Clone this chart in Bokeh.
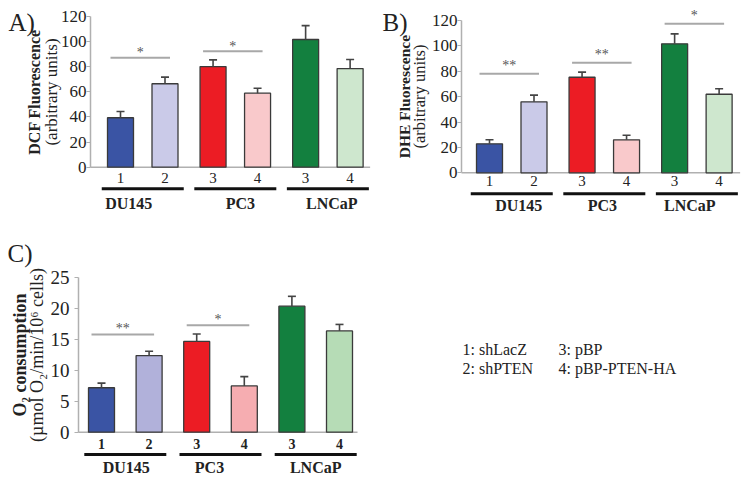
from bokeh.plotting import figure
from bokeh.models import Range1d, LinearAxis, FixedTicker, ColumnDataSource, Whisker, TeeHead
from bokeh.layouts import row, column
from bokeh.core.properties import value
from bokeh.embed import file_html
from bokeh.resources import INLINE

# ---------------- data ----------------
groups = ["DU145", "PC3", "LNCaP"]
sub_labels = ["1", "2", "3", "4", "3", "4"]
group_of_bar = [0, 0, 1, 1, 2, 2]

dcf_mean = [39.3, 66.3, 80.0, 58.8, 101.5, 78.4]
dcf_err = [5.0, 5.3, 5.3, 4.0, 11.0, 7.2]
dcf_sig_from = [0, 2]
dcf_sig_to = [1, 3]
dcf_sig_level = [86.9, 92.2]
dcf_sig_text = ["*", "*"]

dhe_mean = [22.8, 55.9, 75.3, 26.0, 101.6, 61.9]
dhe_err = [3.2, 5.3, 4.0, 3.6, 7.9, 4.3]
dhe_sig_from = [0, 2, 4]
dhe_sig_to = [1, 3, 5]
dhe_sig_level = [78.0, 86.7, 117.4]
dhe_sig_text = ["**", "**", "*"]

o2_mean = [7.2, 12.4, 14.7, 7.5, 20.4, 16.4]
o2_err = [0.75, 0.7, 1.2, 1.5, 1.6, 1.05]
o2_sig_from = [0, 2]
o2_sig_to = [1, 3]
o2_sig_level = [15.8, 17.3]
o2_sig_text = ["**", "*"]

legend_items = ["1: shLacZ", "2: shPTEN", "3: pBP", "4: pBP-PTEN-HA"]

colors_light = ["#3a54a4", "#cacae8", "#ec1c24", "#f9c9cb", "#13803f", "#cee7ce"]
colors_c = ["#3a54a4", "#b1b1da", "#ec1c24", "#f6adb1", "#13803f", "#b6dcb6"]

FONT = "Liberation Serif"
TXT = "#222222"
AX = "#b0b0b0"


def make_panel(letter, ttl_bold, ttl_norm, means, errs, s_from, s_to, s_lv, s_tx, colors, c):
    W, H = c["W"], c["H"]
    n = len(means)
    xs = [i + c["gap"] * group_of_bar[i] for i in range(n)]
    ppx, ppy = c["ppu_x"], c["ppu_y"]
    fc = c["first_center"]
    x0 = (0 - fc) / ppx
    x1 = (W - fc) / ppx
    ax_x = (c["axis_px"] - fc) / ppx
    ytop = c["zero_y"] / ppy
    ybot = -(H - c["zero_y"]) / ppy
    p = figure(width=W, height=H, x_range=Range1d(x0, x1), y_range=Range1d(ybot, ytop),
               x_axis_location=None, toolbar_location=None, output_backend="svg",
               min_border=0, outline_line_color=None)
    p.grid.visible = False

    ax = p.yaxis[0]
    ax.fixed_location = ax_x
    ax.bounds = (0, c["ymax"])
    ax.ticker = FixedTicker(ticks=list(range(0, c["ymax"] + 1, c["step"])), minor_ticks=[])
    ax.axis_line_color = AX
    ax.axis_line_width = 1.5
    ax.major_tick_line_color = AX
    ax.major_tick_line_width = 1.2
    ax.major_tick_out = 4
    ax.major_tick_in = 0
    ax.minor_tick_line_color = None
    ax.major_label_text_font = FONT
    ax.major_label_text_font_size = c["tick_fs"]
    ax.major_label_text_color = TXT
    ax.major_label_standoff = c["tick_std"]
    ax.axis_label = ttl_norm
    ax.axis_label_text_font = FONT
    ax.axis_label_text_font_style = "normal"
    ax.axis_label_text_font_size = c["norm_fs"]
    ax.axis_label_text_color = TXT
    ax.axis_label_standoff = c["std1"]

    ax2 = LinearAxis(ticker=FixedTicker(ticks=[], minor_ticks=[]), axis_label=ttl_bold,
                     fixed_location=ax_x, bounds=(0, c["ymax"]),
                     axis_line_color=None, major_tick_line_color=None, minor_tick_line_color=None,
                     major_label_text_font_size="0px", major_tick_out=0, major_tick_in=0,
                     major_label_standoff=0, axis_label_standoff=c["std2"],
                     axis_label_text_font=FONT, axis_label_text_font_style="bold",
                     axis_label_text_font_size=c["bold_fs"], axis_label_text_color=TXT)
    p.add_layout(ax2, "left")

    # x axis line at zero
    p.segment(x0=[ax_x], y0=[0], x1=[xs[-1] + c["axis_ext"] / ppx], y1=[0],
              line_color=AX, line_width=1.5)

    src = ColumnDataSource(dict(x=xs, top=means, upper=[m + e for m, e in zip(means, errs)],
                                color=colors, lab=sub_labels))
    p.vbar(x="x", top="top", bottom=0, width=26 / ppx, fill_color="color",
           line_color="#3a3a3a", line_width=1.3, source=src)
    p.add_layout(Whisker(source=src, base="x", lower="top", upper="upper", dimension="height",
                         lower_head=None,
                         upper_head=TeeHead(size=8, line_color="#444444", line_width=1.6),
                         line_color="#444444", line_width=1.6, level="annotation"))

    # sub labels
    p.text(x="x", y=0, text="lab", source=src, text_align="center", text_baseline="middle",
           y_offset=c["num_off"], text_font=value(FONT), text_font_size=c["num_fs"],
           text_font_style=c["num_style"], text_color=TXT)

    # group lines and labels
    gx = [(xs[2 * g] + xs[2 * g + 1]) / 2 for g in range(len(groups))]
    half = 41 / ppx
    yl = -c["line_off"] / ppy
    p.segment(x0=[g - half for g in gx], y0=[yl] * 3, x1=[g + half for g in gx], y1=[yl] * 3,
              line_color="#111111", line_width=3, line_cap="butt")
    gsrc = ColumnDataSource(dict(x=gx, t=groups, xo=c["grp_xoff"]))
    p.text(x="x", y=0, text="t", source=gsrc, x_offset="xo", y_offset=c["grp_off"],
           text_align="center", text_baseline="middle", text_font=value(FONT),
           text_font_size=c["grp_fs"], text_font_style="bold", text_color=TXT)

    # significance
    sx0 = [xs[a] - 10 / ppx for a in s_from]
    sx1 = [xs[b] + 5 / ppx for b in s_to]
    p.segment(x0=sx0, y0=s_lv, x1=sx1, y1=s_lv, line_color="#a8a8a8", line_width=2)
    p.text(x=[(a + b) / 2 for a, b in zip(sx0, sx1)], y=s_lv, text=s_tx, y_offset=c["star_off"],
           text_align="center", text_baseline="alphabetic", text_font=value(FONT),
           text_font_size="14px", text_color="#555555")

    # panel letter
    p.text(x=[(c["letter_x"] - fc) / ppx], y=[(c["zero_y"] - c["letter_base"]) / ppy],
           text=[letter], text_align="left", text_baseline="alphabetic",
           text_font=value(FONT), text_font_size="25px", text_color=TXT)
    return p


cfgA = dict(W=372, H=213, axis_px=90, first_center=120, ppu_x=44.5, gap=0.08,
            zero_y=166.7, ppu_y=1.2583, ymax=120, step=20, tick_fs="17px", tick_std=0,
            norm_fs="17px", bold_fs="16px", std1=-3, std2=48, axis_ext=20,
            num_off=11, num_fs="15px", num_style="normal", line_off=21.6,
            grp_off=36, grp_fs="16px", grp_xoff=[-14, 5, 4], letter_x=8, letter_base=22,
            star_off=-5)
cfgB = dict(W=370, H=213, axis_px=89, first_center=117, ppu_x=44.5, gap=0.08,
            zero_y=172.3, ppu_y=1.269, ymax=120, step=20, tick_fs="17px", tick_std=0,
            norm_fs="16.5px", bold_fs="15.5px", std1=0, std2=49, axis_ext=21,
            num_off=8, num_fs="15px", num_style="normal", line_off=21,
            grp_off=33, grp_fs="16px", grp_xoff=[7, -2, -7], letter_x=10, letter_base=22,
            star_off=-8)
cfgC = dict(W=372, H=267, axis_px=78, first_center=101, ppu_x=47.6, gap=0.0,
            zero_y=218.7, ppu_y=6.176, ymax=25, step=5, tick_fs="19px", tick_std=5,
            norm_fs="18px", bold_fs="18px", std1=1, std2=49, axis_ext=18,
            num_off=12, num_fs="14px", num_style="bold", line_off=22.3,
            grp_off=35.5, grp_fs="16px", grp_xoff=[1, -11, 0], letter_x=7, letter_base=40,
            star_off=-6)

pA = make_panel("A)", "DCF Fluorescence", "(arbitrary units)", dcf_mean, dcf_err,
                dcf_sig_from, dcf_sig_to, dcf_sig_level, dcf_sig_text, colors_light, cfgA)
pB = make_panel("B)", "DHE Fluorescence", "(arbitrary units)", dhe_mean, dhe_err,
                dhe_sig_from, dhe_sig_to, dhe_sig_level, dhe_sig_text, colors_light, cfgB)
pC = make_panel("C)", "O\u2082 consumption", "(\u00b5mol O\u2082/min/10\u2076 cells)", o2_mean, o2_err,
                o2_sig_from, o2_sig_to, o2_sig_level, o2_sig_text, colors_c, cfgC)

# legend panel
LW, LH = 370, 267
pD = figure(width=LW, height=LH, x_range=Range1d(0, LW), y_range=Range1d(LH, 0),
            x_axis_location=None, y_axis_location=None, toolbar_location=None,
            output_backend="svg", min_border=0, outline_line_color=None)
pD.grid.visible = False
col_x = [90, 186]
row_y = [136, 155]
pD.text(x=[col_x[i // 2] for i in range(4)], y=[row_y[i % 2] for i in range(4)], text=legend_items,
        text_align="left", text_baseline="middle", text_font=value(FONT), text_font_size="16px",
        text_color=TXT)

layout = column(row(pA, pB), row(pC, pD))
open("out.html", "w").write(file_html(layout, INLINE))
